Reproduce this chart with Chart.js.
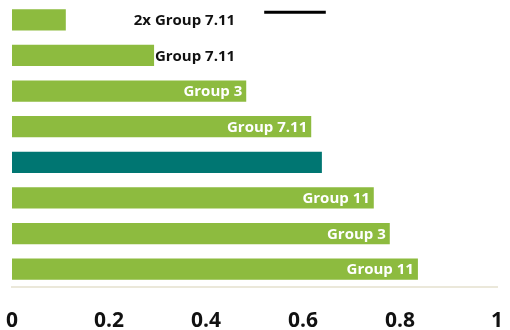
<!DOCTYPE html>
<html>
<head>
<meta charset="utf-8">
<script src="https://cdn.jsdelivr.net/npm/chart.js@4/dist/chart.umd.min.js"></script>
<style>
  html, body { margin: 0; padding: 0; background: #fff; }
  #wrap { width: 510px; height: 330px; }
</style>
</head>
<body>
<div id="wrap"><canvas id="barChart"></canvas></div>
<script>
// bar values, top to bottom
const rows = ['r1', 'r2', 'r3', 'r4', 'r5', 'r6', 'r7', 'r8'];
const values = [0.113, 0.295, 0.485, 0.619, 0.641, 0.748, 0.781, 0.839];
const labels = ['2x Group 7.11', 'Group 7.11', 'Group 3', 'Group 7.11', '', 'Group 11', 'Group 3', 'Group 11'];
const xTicks = [0, 0.2, 0.4, 0.6, 0.8, 1];
// short black reference line drawn above the first bar
const refLine = [0.52, 0.647];
// the two short bars get their text outside, ending at this value
const outsideLabelEnd = 0.46;

const green = '#8dbb3f';
const teal = '#007672';
const barColors = values.map((v, i) => i === 4 ? teal : green);

const fontFamily = '"Open Sans", "DejaVu Sans", sans-serif';

const barLabels = {
  id: 'barLabels',
  afterDatasetsDraw(chart) {
    const ctx = chart.ctx;
    const meta = chart.getDatasetMeta(0);
    const x = chart.scales.x;
    ctx.save();
    ctx.font = 'bold 15px ' + fontFamily;
    ctx.textBaseline = 'middle';
    meta.data.forEach((bar, i) => {
      const txt = labels[i];
      if (!txt) return;
      ctx.textAlign = 'right';
      if (i < 2) {
        ctx.fillStyle = '#111';
        ctx.fillText(txt, x.getPixelForValue(outsideLabelEnd), bar.y + 1);
      } else {
        ctx.fillStyle = '#fff';
        ctx.fillText(txt, bar.x - 5, bar.y + 1);
      }
    });
    // reference line
    const first = meta.data[0];
    const yLine = first.y - first.height / 2 + 4;
    ctx.strokeStyle = '#000';
    ctx.lineWidth = 3;
    ctx.beginPath();
    ctx.moveTo(x.getPixelForValue(refLine[0]), yLine);
    ctx.lineTo(x.getPixelForValue(refLine[1]), yLine);
    ctx.stroke();
    ctx.restore();
  }
};

new Chart(document.getElementById('barChart'), {
  type: 'bar',
  data: {
    labels: rows,
    datasets: [{
      data: values,
      backgroundColor: barColors,
      borderColor: 'rgba(255,255,255,0.5)',
      borderWidth: 1,
      barPercentage: 0.65,
      categoryPercentage: 1
    }]
  },
  options: {
    indexAxis: 'y',
    responsive: true,
    maintainAspectRatio: false,
    animation: false,
    layout: { padding: { left: 12, right: 13, top: 2, bottom: 0 } },
    plugins: { legend: { display: false }, tooltip: { enabled: false } },
    scales: {
      x: {
        type: 'linear',
        min: 0,
        max: 1,
        afterBuildTicks: axis => { axis.ticks = xTicks.map(v => ({ value: v })); },
        afterFit: axis => {
          axis.paddingLeft = 0;
          axis.paddingRight = 0;
          axis.height = 43;
        },
        grid: { display: false, drawTicks: false },
        border: { display: true, color: '#ebe8da', width: 2 },
        ticks: {
          padding: 21,
          color: '#111',
          font: { family: fontFamily, size: 21, weight: 'bold' },
          maxRotation: 0,
          callback: v => String(v)
        }
      },
      y: { display: false }
    }
  },
  plugins: [barLabels]
});
</script>
</body>
</html>
